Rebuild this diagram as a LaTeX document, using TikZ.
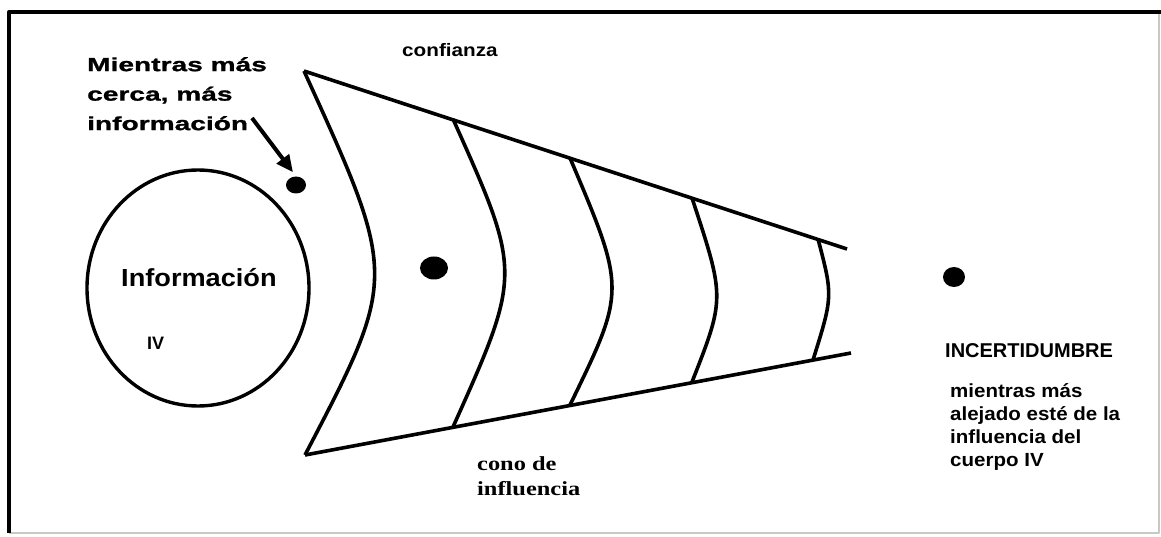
\documentclass[tikz,border=0pt]{standalone}
\usepackage{fontspec}
\setmainfont{Liberation Sans}
\newfontfamily\nearfont[FakeStretch=1.48,FakeBold=1.2]{Liberation Sans}
\newfontfamily\infofont[FakeStretch=1.10]{Liberation Sans}
\newfontfamily\conffont[FakeStretch=1.15]{Liberation Sans}
\newfontfamily\farfont[FakeStretch=1.08]{Liberation Sans}
\newfontfamily\conefont[FakeStretch=1.22]{Liberation Serif}
\usetikzlibrary{arrows.meta,shapes.geometric}
\definecolor{FrameGray}{HTML}{C8C8C8}

\begin{document}
\begin{tikzpicture}[x=1pt, y=1pt, >={Triangle[length=17pt,width=15pt]}, line join=round]
\tikzset{edge/.style={line width=3.6pt}, dot/.style={ellipse, fill=black, inner sep=0}, lbl/.style={inner sep=0, align=left}}
\useasboundingbox (0,0) rectangle (1161,536);
% frame
\draw[FrameGray, line width=2pt] (9,3) -- (1159,3) -- (1159,524);
\draw[line width=4pt] (9,3) -- (9,524) -- (1161,524);
% body IV
\node[ellipse, draw, line width=3.4pt, minimum width=222pt, minimum height=236pt] (body) at (198,248) {};
\node[lbl, anchor=base west, font=\infofont\bfseries\fontsize{24.7}{28}\selectfont] (info) at (121,250) {Información};
\node[lbl, anchor=base west, font=\bfseries\fontsize{18}{21}\selectfont] (iv) at (147,187) {IV};
% cone
\coordinate (ctop) at (304,465);
\coordinate (cbot) at (305,81);
\coordinate (ctopend) at (847,287);
\coordinate (cbotend) at (851,183);
\draw[edge] (ctop) -- (ctopend);
\draw[edge] (cbot) -- (cbotend);
\coordinate (v1) at (398,259);
\coordinate (t2) at (453,417); \coordinate (v2) at (522,263); \coordinate (b2) at (453,109);
\coordinate (t3) at (570,378); \coordinate (v3) at (626,246); \coordinate (b3) at (570,131);
\coordinate (t4) at (692,338); \coordinate (v4) at (725,238); \coordinate (b4) at (692,154);
\coordinate (t5) at (818,297); \coordinate (v5) at (833,240); \coordinate (b5) at (813,176);
% bands of the cone
\foreach \t/\v/\b in {ctop/v1/cbot, t2/v2/b2, t3/v3/b3, t4/v4/b4, t5/v5/b5}
  \draw[edge] (\t) .. controls (\v) .. (\b);
% dots
\node[dot, minimum width=20pt, minimum height=17pt] (neardot) at (296,351) {};
\node[dot, minimum width=28pt, minimum height=23pt] (middot) at (434,268) {};
\node[dot, minimum width=22pt, minimum height=20pt] (fardot) at (954,259) {};
% labels
\node[lbl, anchor=north west, font=\nearfont\bfseries\fontsize{19}{29.5}\selectfont] (near) at (87,479) {Mientras más\\cerca, más\\información};
\coordinate (tail) at (252,418);
\draw[->, line width=4pt, shorten >=5pt] (tail) -- (neardot.north);
\node[lbl, anchor=base west, font=\conffont\bfseries\fontsize{18}{21}\selectfont] (conf) at (402,479) {confianza};
\node[lbl, anchor=north west, font=\conefont\bfseries\fontsize{20}{25}\selectfont] (conenote) at (477,80) {cono de\\influencia};
\node[lbl, anchor=base west, font=\bfseries\fontsize{20}{23}\selectfont] (incert) at (945,179) {INCERTIDUMBRE};
\node[lbl, anchor=north west, font=\farfont\bfseries\fontsize{19}{23}\selectfont] (farnote) at (950,153) {mientras más\\alejado esté de la\\influencia del\\cuerpo IV};
\end{tikzpicture}
\end{document}
